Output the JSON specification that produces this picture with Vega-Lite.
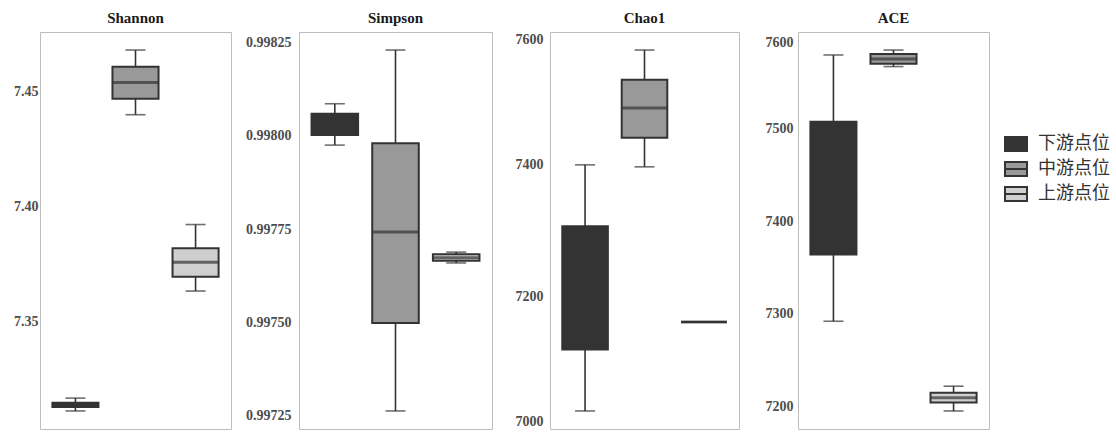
{
  "$schema": "https://vega.github.io/schema/vega-lite/v6.json",
  "background": "white",
  "padding": {"left": 5, "top": 10, "right": 5, "bottom": 3},
  "spacing": 0,
  "datasets": {
    "stats": [
      {"metric": "Shannon", "group": "下游点位", "min": 7.3108, "q1": 7.3125, "median": 7.3134, "q3": 7.3144, "max": 7.3164},
      {"metric": "Shannon", "group": "中游点位", "min": 7.4400, "q1": 7.4470, "median": 7.4540, "q3": 7.4609, "max": 7.4682},
      {"metric": "Shannon", "group": "上游点位", "min": 7.3631, "q1": 7.3693, "median": 7.3756, "q3": 7.3818, "max": 7.3921},
      {"metric": "Simpson", "group": "下游点位", "min": 0.997975, "q1": 0.998002, "median": 0.998035, "q3": 0.998059, "max": 0.998086},
      {"metric": "Simpson", "group": "中游点位", "min": 0.997262, "q1": 0.997498, "median": 0.997742, "q3": 0.997980, "max": 0.998230},
      {"metric": "Simpson", "group": "上游点位", "min": 0.997659, "q1": 0.997665, "median": 0.997673, "q3": 0.997682, "max": 0.997688},
      {"metric": "Chao1", "group": "下游点位", "min": 7027, "q1": 7120, "median": 7200, "q3": 7307, "max": 7400},
      {"metric": "Chao1", "group": "中游点位", "min": 7397, "q1": 7441, "median": 7486, "q3": 7529, "max": 7574},
      {"metric": "Chao1", "group": "上游点位", "min": 7162, "q1": 7162, "median": 7162, "q3": 7162, "max": 7162},
      {"metric": "ACE", "group": "下游点位", "min": 7292, "q1": 7364, "median": 7430, "q3": 7507, "max": 7579},
      {"metric": "ACE", "group": "中游点位", "min": 7566.5, "q1": 7569.4, "median": 7574.7, "q3": 7580.1, "max": 7584.3},
      {"metric": "ACE", "group": "上游点位", "min": 7195.3, "q1": 7204.3, "median": 7209.6, "q3": 7215, "max": 7222}
    ]
  },
  "data": {"name": "stats"},
  "resolve": {"scale": {"y": "independent", "fill": "shared"}, "legend": {"fill": "shared"}},
  "hconcat": [
    {
      "width": 191, "height": 397,
      "title": "Shannon",
      "transform": [{"filter": "datum.metric === 'Shannon'"}],
      "encoding": {"x": {"field": "group", "type": "nominal", "sort": ["下游点位", "中游点位", "上游点位"], "axis": null, "scale": {"paddingInner": 0, "paddingOuter": 0.09}}},
      "layer": [
        {"mark": {"type": "rule", "color": "#333333", "strokeWidth": 1.6},
         "encoding": {"y": {"field": "min", "type": "quantitative", "title": null, "scale": {"domain": [7.30293, 7.47607], "nice": false, "zero": false}, "axis": {"values": [7.35, 7.40, 7.45], "format": ".2f", "labelPadding": 2, "minExtent": 34, "maxExtent": 34}}, "y2": {"field": "max"}}},
        {"mark": {"type": "bar", "width": {"band": 0.767}, "stroke": "#333333", "strokeWidth": 2},
         "encoding": {"y": {"field": "q1", "type": "quantitative"}, "y2": {"field": "q3"},
           "fill": {"field": "group", "type": "nominal", "title": null, "scale": {"domain": ["下游点位", "中游点位", "上游点位"], "range": ["#333333", "#999999", "#cfcfcf"]},
             "legend": {"orient": "none", "legendX": 964, "legendY": 100, "symbolType": "M-1,-0.64L1,-0.64L1,0.64L-1,0.64ZM-1,0L1,0", "symbolSize": 484, "symbolStrokeColor": "#333333", "symbolStrokeWidth": 2, "labelFont": "Noto Sans CJK SC", "labelFontSize": 18, "labelColor": "#333333", "labelOffset": 10, "rowPadding": 1, "padding": 0}}}},
        {"mark": {"type": "tick", "size": 46, "thickness": 3, "color": "#333333"}, "encoding": {"y": {"field": "median", "type": "quantitative"}}},
        {"mark": {"type": "tick", "size": 20, "thickness": 1.6, "color": "#333333"}, "encoding": {"y": {"field": "min", "type": "quantitative"}}},
        {"mark": {"type": "tick", "size": 20, "thickness": 1.6, "color": "#333333"}, "encoding": {"y": {"field": "max", "type": "quantitative"}}}
      ]
    },
    {
      "width": 193, "height": 397,
      "title": "Simpson",
      "transform": [{"filter": "datum.metric === 'Simpson'"}],
      "encoding": {"x": {"field": "group", "type": "nominal", "sort": ["下游点位", "中游点位", "上游点位"], "axis": null, "scale": {"paddingInner": 0, "paddingOuter": 0.09}}},
      "layer": [
        {"mark": {"type": "rule", "color": "#333333", "strokeWidth": 1.6},
         "encoding": {"y": {"field": "min", "type": "quantitative", "title": null, "scale": {"domain": [0.9972136, 0.9982784], "nice": false, "zero": false}, "axis": {"values": [0.99725, 0.99750, 0.99775, 0.99800, 0.99825], "format": ".5f", "labelPadding": 8, "minExtent": 66, "maxExtent": 66}}, "y2": {"field": "max"}}},
        {"mark": {"type": "bar", "width": {"band": 0.767}, "stroke": "#333333", "strokeWidth": 2},
         "encoding": {"y": {"field": "q1", "type": "quantitative"}, "y2": {"field": "q3"},
           "fill": {"field": "group", "type": "nominal", "title": null, "scale": {"domain": ["下游点位", "中游点位", "上游点位"], "range": ["#333333", "#999999", "#cfcfcf"]},
             "legend": {"orient": "none", "legendX": 964, "legendY": 100, "symbolType": "M-1,-0.64L1,-0.64L1,0.64L-1,0.64ZM-1,0L1,0", "symbolSize": 484, "symbolStrokeColor": "#333333", "symbolStrokeWidth": 2, "labelFont": "Noto Sans CJK SC", "labelFontSize": 18, "labelColor": "#333333", "labelOffset": 10, "rowPadding": 1, "padding": 0}}}},
        {"mark": {"type": "tick", "size": 46, "thickness": 3, "color": "#333333"}, "encoding": {"y": {"field": "median", "type": "quantitative"}}},
        {"mark": {"type": "tick", "size": 20, "thickness": 1.6, "color": "#333333"}, "encoding": {"y": {"field": "min", "type": "quantitative"}}},
        {"mark": {"type": "tick", "size": 20, "thickness": 1.6, "color": "#333333"}, "encoding": {"y": {"field": "max", "type": "quantitative"}}}
      ]
    },
    {
      "width": 189, "height": 397,
      "title": "Chao1",
      "transform": [{"filter": "datum.metric === 'Chao1'"}],
      "encoding": {"x": {"field": "group", "type": "nominal", "sort": ["下游点位", "中游点位", "上游点位"], "axis": null, "scale": {"paddingInner": 0, "paddingOuter": 0.09}}},
      "layer": [
        {"mark": {"type": "rule", "color": "#333333", "strokeWidth": 1.6},
         "encoding": {"y": {"field": "min", "type": "quantitative", "title": null, "scale": {"domain": [6999.65, 7601.35], "nice": false, "zero": false}, "axis": {"values": [7000, 7200, 7400, 7600], "format": "d", "labelPadding": 7, "minExtent": 56, "maxExtent": 56}}, "y2": {"field": "max"}}},
        {"mark": {"type": "bar", "width": {"band": 0.767}, "stroke": "#333333", "strokeWidth": 2},
         "encoding": {"y": {"field": "q1", "type": "quantitative"}, "y2": {"field": "q3"},
           "fill": {"field": "group", "type": "nominal", "title": null, "scale": {"domain": ["下游点位", "中游点位", "上游点位"], "range": ["#333333", "#999999", "#cfcfcf"]},
             "legend": {"orient": "none", "legendX": 964, "legendY": 100, "symbolType": "M-1,-0.64L1,-0.64L1,0.64L-1,0.64ZM-1,0L1,0", "symbolSize": 484, "symbolStrokeColor": "#333333", "symbolStrokeWidth": 2, "labelFont": "Noto Sans CJK SC", "labelFontSize": 18, "labelColor": "#333333", "labelOffset": 10, "rowPadding": 1, "padding": 0}}}},
        {"mark": {"type": "tick", "size": 46, "thickness": 3, "color": "#333333"}, "encoding": {"y": {"field": "median", "type": "quantitative"}}},
        {"mark": {"type": "tick", "size": 20, "thickness": 1.6, "color": "#333333"}, "encoding": {"y": {"field": "min", "type": "quantitative"}}},
        {"mark": {"type": "tick", "size": 20, "thickness": 1.6, "color": "#333333"}, "encoding": {"y": {"field": "max", "type": "quantitative"}}}
      ]
    },
    {
      "width": 191, "height": 397,
      "title": "ACE",
      "transform": [{"filter": "datum.metric === 'ACE'"}],
      "encoding": {"x": {"field": "group", "type": "nominal", "sort": ["下游点位", "中游点位", "上游点位"], "axis": null, "scale": {"paddingInner": 0, "paddingOuter": 0.09}}},
      "layer": [
        {"mark": {"type": "rule", "color": "#333333", "strokeWidth": 1.6},
         "encoding": {"y": {"field": "min", "type": "quantitative", "title": null, "scale": {"domain": [7175.85, 7603.75], "nice": false, "zero": false}, "axis": {"values": [7200, 7300, 7400, 7500, 7600], "format": "d", "labelPadding": 5, "minExtent": 57, "maxExtent": 57}}, "y2": {"field": "max"}}},
        {"mark": {"type": "bar", "width": {"band": 0.767}, "stroke": "#333333", "strokeWidth": 2},
         "encoding": {"y": {"field": "q1", "type": "quantitative"}, "y2": {"field": "q3"},
           "fill": {"field": "group", "type": "nominal", "title": null, "scale": {"domain": ["下游点位", "中游点位", "上游点位"], "range": ["#333333", "#999999", "#cfcfcf"]},
             "legend": {"orient": "none", "legendX": 964, "legendY": 100, "symbolType": "M-1,-0.64L1,-0.64L1,0.64L-1,0.64ZM-1,0L1,0", "symbolSize": 484, "symbolStrokeColor": "#333333", "symbolStrokeWidth": 2, "labelFont": "Noto Sans CJK SC", "labelFontSize": 18, "labelColor": "#333333", "labelOffset": 10, "rowPadding": 1, "padding": 0}}}},
        {"mark": {"type": "tick", "size": 46, "thickness": 3, "color": "#333333"}, "encoding": {"y": {"field": "median", "type": "quantitative"}}},
        {"mark": {"type": "tick", "size": 20, "thickness": 1.6, "color": "#333333"}, "encoding": {"y": {"field": "min", "type": "quantitative"}}},
        {"mark": {"type": "tick", "size": 20, "thickness": 1.6, "color": "#333333"}, "encoding": {"y": {"field": "max", "type": "quantitative"}}}
      ]
    }
  ],
  "config": {
    "view": {"stroke": "#bdbdbd", "strokeWidth": 1},
    "title": {"font": "Liberation Serif", "fontWeight": "bold", "fontSize": 15, "color": "#1a1a1a", "anchor": "middle", "offset": 6},
    "axis": {"labelFont": "Liberation Serif", "labelFontWeight": "bold", "labelFontSize": 14, "labelColor": "#4d4d4d", "ticks": false, "domain": false, "grid": false, "title": null, "labelFlush": 5}
  }
}
